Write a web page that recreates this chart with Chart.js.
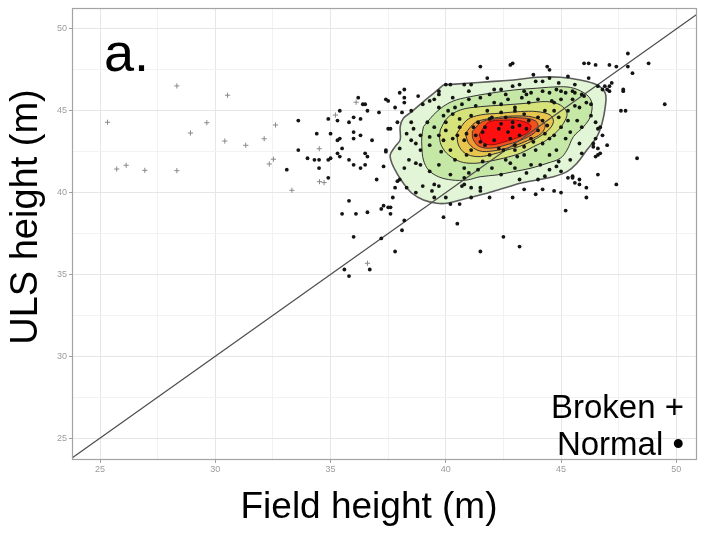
<!DOCTYPE html>
<html>
<head>
<meta charset="utf-8">
<script src="https://cdn.jsdelivr.net/npm/chart.js@4.4.1/dist/chart.umd.min.js"></script>
<style>
  html, body { margin: 0; padding: 0; background: #ffffff; }
  #wrap { position: relative; width: 707px; height: 533px; }
  canvas { display: block; }
</style>
</head>
<body>
<div id="wrap"><canvas id="chart" width="707" height="533"></canvas></div>
<script>
// Axis ticks (metres)
const fieldTicks = [25, 30, 35, 40, 45, 50];
const ulsTicks = [25, 30, 35, 40, 45, 50];
const gridStep = 2.5;

// Trees recorded as broken: [field height, ULS height]
const brokenPoints = [
  [28.33,46.52],[30.53,45.95],[25.32,44.30],[29.63,44.27],[28.92,43.64],[32.61,44.13],
  [32.12,43.29],[30.41,43.15],[31.32,42.89],[32.52,42.04],[32.34,41.75],[25.72,41.44],
  [26.13,41.67],[26.94,41.36],[28.33,41.34],[33.32,40.14],[34.51,42.68],[35.21,44.74],
  [36.11,45.52],[34.52,40.67],[34.72,40.61],[36.60,35.68]
];

// Trees recorded as normal: [field height, ULS height]
const normalPoints = [
  [33.6,44.4],[33.6,42.6],[33.1,41.4],[34.0,42.1],[34.4,43.6],[34.5,42.0],[34.5,41.5],[34.9,42.0],[34.9,40.9],[34.9,44.5],
  [35.0,43.6],[35.3,44.4],[35.3,43.2],[35.3,42.4],[35.4,42.2],[35.5,42.7],[35.4,45.0],[35.8,42.0],[35.8,44.3],[36.0,44.6],
  [36.0,43.7],[36.0,43.3],[36.0,41.7],[36.2,45.8],[36.3,43.5],[36.3,41.5],[36.4,45.4],[36.3,44.5],[36.5,42.4],[36.6,42.2],
  [36.5,41.7],[36.6,45.0],[36.8,43.2],[37.1,44.9],[37.0,40.8],[37.3,41.6],[37.4,42.6],[37.5,45.6],[37.6,43.9],[37.8,45.2],
  [37.8,40.3],[37.7,39.7],[37.8,36.4],[37.2,39.0],[37.3,39.2],[37.6,39.1],[37.6,38.7],[35.8,39.5],[35.5,38.7],[36.1,38.7],
  [36.6,38.8],[36.0,37.3],[37.2,37.2],[35.6,35.3],[36.7,35.3],[35.8,34.9],[36.5,45.4],[35.4,43.3],[34.3,42.0],[35.0,42.1],
  [41.5,47.7],[42.8,47.8],[42.9,47.9],[44.4,47.7],[44.5,47.5],[46.0,47.9],[46.2,47.9],[46.5,47.8],[47.1,47.8],[47.4,47.7],
  [47.9,48.5],[48.8,47.9],[48.1,47.3],[41.8,47.0],[43.8,47.2],[49.5,45.4],[48.3,42.1],[47.6,45.0],[47.8,45.0],[47.1,46.5],
  [47.0,46.3],[47.7,46.3],[47.4,40.5],[46.6,41.1],[46.1,40.3],[46.1,39.7],[45.8,40.8],[45.8,40.5],[45.5,41.0],[45.2,38.9],
  [43.9,39.9],[45.0,40.0],[44.2,40.2],[42.5,37.3],[43.2,36.7],[41.5,36.4],[40.5,38.1],[39.9,38.5],[38.1,37.7],[38.2,38.3],
  [37.5,39.1],[37.4,42.5],[37.5,43.9],[37.4,45.7],[38.0,46.1],[38.2,46.3],[38.2,45.8],[38.5,45.0],[46.6,42.3],[46.7,42.4],
  [46.4,43.0],[47.0,42.9],[46.8,43.5],[46.7,44.0],[46.2,47.0],[45.3,40.9],[44.7,40.1],[43.4,40.2],[42.9,39.7],[41.9,39.7],
  [41.1,39.7],[40.2,39.3],[39.5,39.7],[38.7,40.0],[39.0,40.4],[39.7,40.4],[40.7,40.4],[41.5,40.1],
  [47.9,47.7],[47.2,46.7],[46.9,46.5],[47.1,46.2],[47.7,46.2],[46.6,43.9],[46.4,42.8],[46.5,42.2],
  [45.5,40.9],[45.6,40.6],[44.8,41.6],[45.0,41.3],
  [38.0,40.8],[37.9,40.7],[38.2,41.5],[38.7,41.8],[38.9,41.7],[38.3,40.3],[39.5,40.5],[39.4,40.1],[40.0,39.7],[40.6,39.3],
  [41.5,40.3],[41.1,40.3],[40.8,40.5],
  [40.0,46.6],[40.2,46.6],[40.8,46.6],[41.1,46.6],[39.7,46.2],[39.7,46.0],[41.0,46.2],[39.3,45.6],[39.5,45.7],[40.3,45.8],
  [39.0,45.4],[40.1,45.0],[40.3,44.8],[39.7,45.2],[38.5,44.3],[38.6,43.9],[39.2,44.3],[39.5,44.0],[40.0,44.3],[40.6,44.5],
  [38.3,43.6],[38.5,43.2],[38.9,43.5],[39.3,43.4],[39.3,42.9],[39.7,43.5],[40.0,43.8],[40.3,43.3],[38.0,42.7],[38.7,43.0],
  [38.9,42.6],[37.9,44.3],[38.2,45.5],
  [44.5,47.0],[45.3,47.1],[46.6,46.5],[46.8,46.3],[42.1,46.3],[42.4,46.3],[42.9,46.5],[43.2,46.6],[43.9,46.8],[44.2,46.8],
  [44.9,46.7],[45.6,46.6],[43.4,46.2],[43.7,46.1],[44.2,46.2],[44.5,46.1],[44.8,46.3],[45.0,46.2],[45.2,46.1],[45.5,46.2],
  [45.6,46.1],[45.9,46.0],[46.0,45.9],[46.1,45.5],[46.3,45.4],[45.8,45.2],[46.3,44.7],[46.5,44.3],[45.7,44.4],[45.9,44.0],
  [45.4,43.7],[45.3,44.4],[45.0,44.0],[44.7,43.5],[44.5,43.3],[44.0,43.8],[44.2,43.0],[43.7,43.3],[43.4,42.8],[43.0,42.6],
  [42.5,42.6],[46.5,43.3],[46.6,42.7],[44.7,45.5],[44.7,45.0],[44.3,45.0],[44.0,45.7],[43.6,45.5],[43.3,45.8],[43.0,45.2],
  [42.7,45.7],[42.4,45.4],[45.0,45.7],[45.5,45.7],[45.6,45.3],[45.3,45.0],[44.0,44.6],[43.6,44.4],[43.2,44.1],[42.9,44.3],
  [42.4,44.2],[44.4,44.1],
  [41.1,44.7],[41.4,44.3],[41.7,44.0],[42.0,44.6],[42.7,43.7],[42.9,44.0],[43.2,43.5],[42.1,43.2],[41.7,42.9],[41.3,43.5],
  [40.8,43.2],[40.6,44.0],[41.1,42.6],[41.9,42.3],[42.6,42.0],[43.0,42.9],[43.4,42.3],[43.9,42.6],[44.1,41.7],[40.4,42.0],
  [40.8,41.5],[41.4,41.4],[42.0,41.5],[42.4,41.1],[43.0,41.5],[43.7,41.7],[44.5,41.4],[44.8,42.6],[44.5,42.3],[39.9,43.2],
  [40.4,45.2],[41.0,45.7],[41.5,45.8],[42.1,45.5],[42.6,46.0],[43.0,45.0],[42.4,44.9],[41.8,45.0],[43.2,40.8],[44.0,40.8],
  [39.7,41.7],[40.2,41.1],[40.8,40.9],
  [41.6,43.7],[42.3,43.9],[42.8,43.3],[43.5,43.9],[41.9,44.5],[42.6,44.6],[43.4,44.8],[41.2,44.0],[40.9,43.6],[41.5,43.1],
  [42.3,42.7],[43.1,42.2],[43.8,43.1],[44.3,43.6],[44.9,44.6],[44.2,44.4],[40.5,43.5],[40.9,42.3],[41.6,41.9],[42.8,41.8],
  [43.5,41.2],[44.3,41.0],[39.8,42.5],[40.2,42.6],[39.9,44.7],[40.7,45.4],[41.3,45.3],[41.9,46.0],[43.5,46.0],[44.6,45.6],
  [45.2,43.3],[45.8,43.0],[45.9,42.4],[45.4,42.0],[44.9,41.9],[41.0,41.2],[39.3,41.3],[38.4,42.0],[38.1,44.9],[38.8,45.9]
];

// 2-D density contours, outermost to innermost: [field height, ULS height]
const densityLevel1 = [
  [39.90,46.58],[40.92,46.68],[41.93,46.78],[42.94,46.88],[43.95,47.05],[44.97,47.05],[45.83,46.88],[46.56,46.58],
  [46.92,46.07],[46.92,45.25],[46.78,44.24],[46.56,43.42],[46.12,42.60],[45.69,41.79],[45.26,41.28],[44.67,40.97],
  [43.95,40.77],[43.23,40.57],[42.50,40.26],[41.78,39.96],[41.20,39.75],[40.63,39.55],[40.05,39.35],[39.61,39.35],
  [39.03,39.55],[38.53,39.96],[38.16,40.57],[37.88,41.18],[37.66,41.79],[37.59,42.30],[37.80,42.81],[38.02,43.22],
  [38.02,44.03],[38.16,44.54],[38.53,44.95],[39.03,45.56],[39.47,46.07]
];
const densityLevel2 = [
  [39.03,44.03],[39.61,44.95],[40.26,45.56],[41.06,45.86],[41.93,46.07],[42.94,46.27],[43.95,46.38],[44.97,46.47],
  [45.54,46.38],[46.12,45.97],[46.34,45.46],[46.27,44.64],[45.98,44.03],[45.54,43.42],[45.26,42.60],[44.97,42.10],
  [44.39,41.79],[43.66,41.48],[42.94,41.28],[42.22,41.08],[41.49,40.97],[40.92,40.77],[40.26,40.77],[39.68,40.97],
  [39.25,41.38],[39.03,41.99],[38.96,42.81],[38.96,43.42]
];
const densityLevel3 = [
  [39.76,43.83],[40.05,44.54],[40.63,45.05],[41.49,45.25],[42.50,45.35],[43.52,45.46],[44.39,45.56],[44.97,45.35],
  [45.26,44.85],[45.11,44.24],[44.82,43.72],[44.39,43.22],[43.81,42.81],[43.23,42.40],[42.50,42.10],[41.78,41.89],
  [41.20,41.79],[40.63,41.89],[40.12,42.30],[39.83,42.81],[39.73,43.32]
];
const densityLevel4 = [
  [40.48,43.62],[40.92,44.44],[41.49,44.74],[42.36,44.85],[43.23,44.95],[43.95,44.95],[44.53,44.74],[44.67,44.33],
  [44.46,43.83],[43.95,43.32],[43.37,42.91],[42.65,42.60],[41.93,42.30],[41.35,42.20],[40.84,42.40],[40.55,42.91]
];
const densityLevel5 = [
  [40.85,43.62],[41.30,44.30],[42.07,44.55],[42.94,44.68],[43.81,44.60],[44.30,44.20],[44.15,43.62],[43.55,43.18],
  [42.80,42.78],[42.07,42.55],[41.45,42.55],[41.00,43.00]
];
const densityLevel6 = [
  [41.15,43.75],[41.60,44.35],[42.30,44.52],[43.10,44.58],[43.90,44.38],[43.98,43.85],[43.42,43.30],[42.70,42.95],
  [42.00,42.72],[41.45,42.82],[41.18,43.28]
];
const densityLevel7 = [
  [41.45,43.55],[41.85,44.30],[42.50,44.42],[43.20,44.40],[43.68,44.12],[43.60,43.72],[43.10,43.35],[42.50,43.08],
  [42.00,42.92],[41.60,43.05]
];

const densityLevels = [densityLevel1, densityLevel2, densityLevel3, densityLevel4, densityLevel5, densityLevel6, densityLevel7];
const densityFills = ['#e2f5d6', '#c5e8a6', '#d6e27a', '#e8c64e', '#f09a34', '#f4501c', '#ff1010'];
const densityLines = ['#5c5c5c', '#333333', '#333333', '#333333', '#333333', '#3a3a3a', '#8a1010'];

const toXY = pts => pts.map(([x, y]) => ({ x, y }));
const closeRing = pts => toXY(pts.concat([pts[0]]));

const contourSets = densityLevels.map((ring, i) => ({
  label: 'density ' + (i + 1),
  data: closeRing(ring),
  showLine: true,
  fill: 'shape',
  tension: 0.35,
  pointRadius: 0,
  borderWidth: i === 0 ? 1.6 : 1,
  borderColor: densityLines[i],
  backgroundColor: densityFills[i],
  order: 20 - i
}));

const majorTick = v => Math.abs(v / 5 - Math.round(v / 5)) < 1e-6;

function stepTicks(scale) {
  const t = [];
  for (let v = 25; v <= 50 + 1e-9; v += gridStep) t.push({ value: v });
  scale.ticks = t;
}

const tickFont = { family: 'Liberation Sans, Arial, sans-serif', size: 9 };

// Panel frame, panel tag, point-style key and axis titles
const annotations = {
  id: 'annotations',
  afterDraw(chart) {
    const { ctx, chartArea: a } = chart;
    ctx.save();
    ctx.strokeStyle = '#a3a3a3';
    ctx.lineWidth = 1.2;
    ctx.strokeRect(a.left + 0.5, a.top + 0.5, a.right - a.left - 1, a.bottom - a.top - 1);

    ctx.fillStyle = '#000000';
    ctx.textBaseline = 'alphabetic';
    ctx.font = '54px "Liberation Sans", Arial, sans-serif';
    ctx.textAlign = 'left';
    ctx.fillText('a.', 104, 71);

    ctx.font = '33px "Liberation Sans", Arial, sans-serif';
    ctx.textAlign = 'right';
    ctx.fillText('Broken +', 684, 418);
    ctx.fillText('Normal \u2022', 684, 455);

    ctx.font = '37px "Liberation Sans", Arial, sans-serif';
    ctx.textAlign = 'center';
    ctx.textBaseline = 'middle';
    ctx.fillText('Field height (m)', 369, 508);

    ctx.translate(27, 217);
    ctx.rotate(-Math.PI / 2);
    ctx.font = '38px "Liberation Sans", Arial, sans-serif';
    ctx.fillText('ULS height (m)', 0, 0);
    ctx.restore();
  }
};

new Chart(document.getElementById('chart'), {
  type: 'scatter',
  data: {
    datasets: [
      {
        label: 'Normal',
        data: toXY(normalPoints),
        pointRadius: 1.9,
        pointBorderWidth: 0,
        backgroundColor: '#141414',
        borderColor: '#141414',
        order: 0
      },
      {
        label: 'Broken',
        data: toXY(brokenPoints),
        pointStyle: 'cross',
        pointRadius: 2.6,
        pointBorderWidth: 1,
        borderColor: '#8a8a8a',
        backgroundColor: '#8a8a8a',
        order: 0
      },
      {
        label: '1:1',
        data: [{ x: 20, y: 20 }, { x: 55, y: 55 }],
        showLine: true,
        pointRadius: 0,
        borderColor: '#4d4d4d',
        borderWidth: 1.3,
        fill: false,
        order: 1
      },
      ...contourSets
    ]
  },
  options: {
    responsive: false,
    animation: false,
    events: [],
    layout: { padding: { left: 0, right: 10, top: 8, bottom: 0 } },
    plugins: {
      legend: { display: false },
      tooltip: { enabled: false },
      title: { display: false }
    },
    scales: {
      x: {
        type: 'linear',
        min: 23.78,
        max: 50.9,
        afterBuildTicks: stepTicks,
        afterFit: s => { s.height = 73; },
        border: { display: false },
        grid: {
          color: c => (c.tick && majorTick(c.tick.value)) ? '#e6e6e6' : '#f2f2f2',
          tickColor: c => (c.tick && majorTick(c.tick.value)) ? '#a0a0a0' : 'rgba(0,0,0,0)',
          tickLength: 3,
          lineWidth: 1
        },
        ticks: {
          autoSkip: false,
          maxRotation: 0,
          padding: 1,
          color: '#9c9c9c',
          font: tickFont,
          callback: v => fieldTicks.includes(v) ? String(v) : ''
        }
      },
      y: {
        type: 'linear',
        min: 23.66,
        max: 51.28,
        afterBuildTicks: stepTicks,
        afterFit: s => { s.width = 72; },
        border: { display: false },
        grid: {
          color: c => (c.tick && majorTick(c.tick.value)) ? '#e6e6e6' : '#f2f2f2',
          tickColor: c => (c.tick && majorTick(c.tick.value)) ? '#a0a0a0' : 'rgba(0,0,0,0)',
          tickLength: 3,
          lineWidth: 1
        },
        ticks: {
          autoSkip: false,
          padding: 2,
          color: '#9c9c9c',
          font: tickFont,
          callback: v => ulsTicks.includes(v) ? String(v) : ''
        }
      }
    }
  },
  plugins: [annotations]
});
</script>
</body>
</html>
